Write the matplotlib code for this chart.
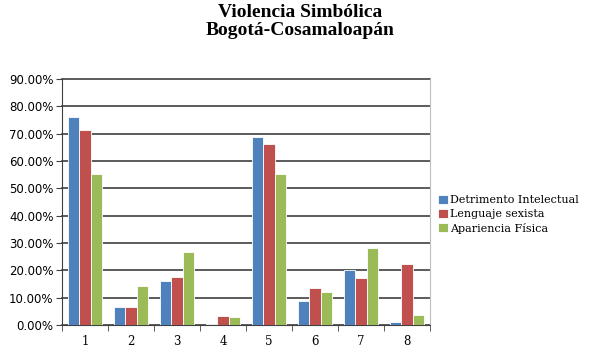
import numpy as np
import matplotlib
matplotlib.use("Agg")
import matplotlib.pyplot as plt
from matplotlib.ticker import PercentFormatter, FixedLocator

categories = ["1", "2", "3", "4", "5", "6", "7", "8"]
detrimento = [76.0, 6.6, 16.0, 0.4, 68.9, 8.9, 20.2, 1.2]
lenguaje = [71.5, 6.6, 17.7, 3.3, 66.2, 13.7, 17.3, 22.2]
apariencia = [55.1, 14.3, 26.8, 3.0, 55.4, 12.0, 28.0, 3.8]
series_names = ["Detrimento Intelectual", "Lenguaje sexista", "Apariencia Física"]
colors = ["#4F81BD", "#C0504D", "#9BBB59"]

fig = plt.figure(figsize=(5.93, 3.55), dpi=100)
ax = fig.add_axes([62 / 593, 1 - 325 / 355, 368 / 593, 246 / 355])

x = np.arange(len(categories))
w = 0.24
for i, (vals, name, c) in enumerate(zip([detrimento, lenguaje, apariencia], series_names, colors)):
    ax.bar(x + (i - 1) * w, vals, width=w, color=c, edgecolor="white", linewidth=0.6,
           label=name, zorder=3)

ax.set_xlim(-0.5, len(categories) - 0.5)
ax.set_ylim(0, 90)
ax.set_yticks(np.arange(0, 91, 10))
ax.yaxis.set_major_formatter(PercentFormatter(decimals=2))
ax.grid(axis="y", color="#404040", linewidth=1.2, zorder=0)
for gl in ax.get_ygridlines():
    gl.set_clip_on(False)
ax.set_xticks(x)
ax.set_xticklabels(categories, family="DejaVu Serif", fontsize=8.5)
ax.xaxis.set_minor_locator(FixedLocator(np.arange(-0.5, len(categories), 1)))
ax.tick_params(axis="x", which="major", length=0, pad=7)
ax.tick_params(axis="x", which="minor", length=4, color="#404040", direction="out")
ax.tick_params(axis="y", length=4, color="#404040", labelsize=8.5, pad=2)
for lab in ax.get_yticklabels():
    lab.set_family("DejaVu Sans")

ax.spines["top"].set_visible(False)
ax.spines["right"].set_color("#BFBFBF")
ax.spines["left"].set_color("#404040")
ax.spines["bottom"].set_color("#404040")

fig.suptitle("Violencia Simbólica\nBogotá-Cosamaloapán", x=300 / 593, y=0.99,
             family="Liberation Serif", fontweight="bold", fontsize=14, linespacing=1.1)

ax.legend(loc="center left", bbox_to_anchor=(1.01, 0.45), frameon=False,
          prop={"family": "DejaVu Serif", "size": 8}, handlelength=0.9,
          handleheight=0.9, handletextpad=0.2, labelspacing=0.3, borderaxespad=0)

fig.savefig("out.png", dpi=100)
